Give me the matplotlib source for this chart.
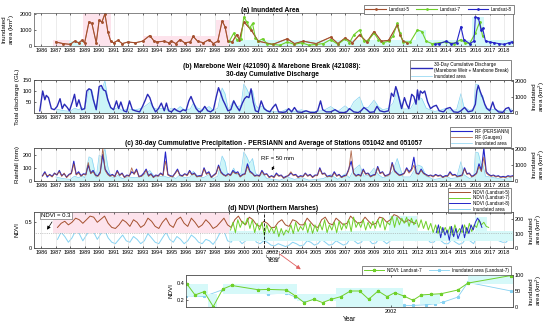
import numpy as np
import matplotlib
matplotlib.use('Agg')
import matplotlib.pyplot as plt
from matplotlib import transforms
from matplotlib.patches import Rectangle

plt.rcParams['font.family'] = ['Liberation Sans', 'DejaVu Sans']
plt.rcParams['mathtext.default'] = 'regular'
plt.rcParams['font.size'] = 4
plt.rcParams['axes.linewidth'] = 0.5
plt.rcParams['axes.edgecolor'] = '#555555'
for a in ('xtick', 'ytick'):
    plt.rcParams[a + '.direction'] = 'in'
    plt.rcParams[a + '.major.size'] = 1.5
    plt.rcParams[a + '.major.width'] = 0.4
    plt.rcParams[a + '.major.pad'] = 1.2
    plt.rcParams[a + '.labelsize'] = 4

# ---------------- DATA ----------------
years = list(range(1986, 2019))
year_labels = [str(y) for y in years]

# (a) Inundated area (km2)
ls5_t = [1987.0, 1987.5, 1988.0, 1988.3, 1988.6, 1988.8, 1989.0, 1989.3, 1989.5, 1989.8, 1990.0, 1990.2,
         1990.4, 1990.6, 1990.8, 1991.0, 1991.3, 1991.6, 1992.0, 1992.5, 1993.0, 1993.5, 1993.8, 1994.0,
         1994.5, 1994.8, 1995.0, 1995.3, 1995.6, 1995.9, 1996.3, 1996.5, 1996.8, 1997.2, 1997.6, 1997.9,
         1998.2, 1998.5, 1998.7, 1998.9, 1999.2, 1999.5, 1999.7, 2000.0, 2000.5, 2001.0, 2002.0, 2003.0,
         2003.5, 2004.1, 2005.0, 2006.0, 2006.5, 2007.0, 2007.5, 2008.0, 2008.5, 2009.0, 2009.5, 2010.0,
         2010.6, 2010.8, 2011.0, 2011.3]
ls5_area = [250, 150, 100, 300, 200, 350, 200, 1500, 1400, 200, 1600, 1500,
            2000, 900, 300, 200, 350, 150, 250, 200, 300, 650, 300, 250,
            300, 200, 300, 150, 400, 200, 250, 600, 300, 200, 400, 150,
            300, 1550, 1200, 300, 250, 700, 400, 1500, 1000, 300, 100, 450,
            150, 300, 150, 550, 150, 500, 200, 700, 250, 900, 300, 350,
            1300, 700, 300, 200]
ls7_t = [1999.0, 1999.3, 1999.5, 1999.8, 2000.0, 2000.2, 2000.4, 2000.6, 2000.8, 2001.0, 2001.3, 2001.6,
         2002.0, 2002.5, 2003.0, 2003.5, 2004.0, 2004.5, 2005.0, 2005.5, 2006.0, 2006.5, 2007.0, 2007.3,
         2007.6, 2008.0, 2008.3, 2008.6, 2009.0, 2009.3, 2009.6, 2010.0, 2010.3, 2010.6, 2010.8, 2011.0,
         2011.5, 2012.0, 2012.3, 2012.6, 2013.0, 2013.5, 2014.0, 2014.5, 2015.0, 2015.3, 2015.6, 2016.0,
         2016.3, 2016.5]
ls7_area = [300, 800, 400, 450, 1800, 1500, 1100, 1400, 500, 300, 450, 150,
            100, 50, 250, 100, 200, 50, 100, 150, 400, 100, 450, 200,
            700, 1000, 300, 350, 800, 400, 200, 300, 600, 1400, 800, 250,
            250, 1000, 900, 300, 150, 200, 250, 150, 400, 200, 150, 800,
            1500, 600]
ls8_t = [2013.2, 2013.5, 2014.0, 2014.3, 2014.7, 2015.0, 2015.2, 2015.6, 2015.9, 2016.0, 2016.2, 2016.4,
         2016.5, 2016.7, 2017.0, 2017.3, 2017.6, 2018.0, 2018.3, 2018.5]
ls8_area = [100, 150, 300, 150, 200, 1200, 400, 150, 300, 1800, 1750, 1000,
            1100, 300, 250, 200, 150, 100, 200, 250]

# (b) 30-day cumulative discharge (GL)
q_t = [1985.9, 1986.1, 1986.25, 1986.35, 1986.5, 1986.7, 1986.9, 1987.1, 1987.3, 1987.45, 1987.6, 1987.8,
       1987.95, 1988.15, 1988.3, 1988.45, 1988.6, 1988.8, 1989.0, 1989.15, 1989.3, 1989.45, 1989.6, 1989.8,
       1990.0, 1990.15, 1990.3, 1990.45, 1990.6, 1990.8, 1991.0, 1991.2, 1991.35, 1991.5, 1991.7, 1991.9,
       1992.1, 1992.3, 1992.5, 1992.8, 1993.0, 1993.2, 1993.35, 1993.5, 1993.7, 1993.9, 1994.1, 1994.3,
       1994.5, 1994.65, 1994.8, 1995.0, 1995.2, 1995.4, 1995.6, 1995.8, 1996.0, 1996.2, 1996.35, 1996.5,
       1996.7, 1996.9, 1997.1, 1997.3, 1997.5, 1997.7, 1997.9, 1998.1, 1998.25, 1998.4, 1998.55, 1998.7,
       1998.9, 1999.1, 1999.3, 1999.5, 1999.7, 1999.9, 2000.05, 2000.2, 2000.35, 2000.5, 2000.65, 2000.8,
       2001.0, 2001.2, 2001.4, 2001.6, 2001.8, 2002.0, 2002.2, 2002.4, 2002.7, 2002.9, 2003.1, 2003.3,
       2003.5, 2003.7, 2004.0, 2004.3, 2004.6, 2004.9, 2005.1, 2005.3, 2005.45, 2005.7, 2006.0, 2006.3,
       2006.6, 2006.9, 2007.1, 2007.3, 2007.6, 2007.9, 2008.1, 2008.3, 2008.5, 2008.7, 2009.0, 2009.2,
       2009.4, 2009.7, 2010.0, 2010.2, 2010.35, 2010.5, 2010.6, 2010.75, 2010.9, 2011.1, 2011.25, 2011.4,
       2011.6, 2011.75, 2011.9, 2012.0, 2012.1, 2012.2, 2012.35, 2012.5, 2012.7, 2012.9, 2013.1, 2013.3,
       2013.5, 2013.8, 2014.0, 2014.25, 2014.5, 2014.8, 2015.0, 2015.25, 2015.5, 2015.8, 2016.0, 2016.1,
       2016.2, 2016.35, 2016.5, 2016.65, 2016.8, 2017.0, 2017.2, 2017.35, 2017.6, 2017.9, 2018.1, 2018.3,
       2018.45, 2018.55]
q_gl = [10, 100, 60, 80, 70, 20, 15, 30, 65, 20, 40, 25,
        10, 50, 85, 30, 60, 15, 20, 100, 110, 105, 60, 15,
        120, 125, 105, 100, 60, 25, 15, 55, 20, 50, 10, 5,
        55, 15, 10, 5, 30, 60, 85, 70, 30, 5, 20, 45,
        10, 45, 10, 5, 20, 10, 5, 15, 10, 55, 75, 50,
        20, 5, 10, 30, 10, 5, 15, 75, 115, 90, 60, 40,
        10, 15, 55, 30, 10, 45, 65, 75, 70, 110, 50, 10,
        5, 55, 20, 10, 5, 25, 40, 5, 3, 5, 20, 5,
        25, 5, 3, 10, 3, 2, 10, 55, 15, 5, 5, 15,
        3, 2, 5, 20, 5, 2, 10, 25, 15, 3, 5, 30,
        10, 5, 10, 90, 75, 120, 100, 60, 20, 70, 40, 20,
        85, 75, 40, 105, 60, 100, 90, 100, 50, 20, 30, 35,
        10, 5, 20, 25, 5, 3, 10, 25, 5, 10, 40, 100,
        125, 95, 70, 40, 20, 10, 50, 20, 5, 3, 20, 25,
        5, 10]

# (c) 30-day cumulative precipitation (mm), six values per year
rf_persiann = [
    [40, 70, 30, 50, 35, 60], [45, 80, 40, 55, 30, 50], [60, 150, 50, 70, 40, 55], [50, 120, 60, 80, 45, 40],
    [70, 200, 90, 60, 40, 50], [35, 80, 45, 60, 30, 45], [40, 70, 55, 90, 35, 40], [60, 90, 40, 55, 30, 45],
    [40, 60, 45, 220, 50, 40], [35, 60, 90, 45, 40, 55], [45, 80, 50, 60, 35, 40], [40, 100, 55, 70, 30, 45],
    [60, 120, 70, 50, 40, 55], [45, 80, 60, 70, 35, 50], [55, 130, 75, 60, 40, 45], [40, 80, 50, 55, 30, 40],
    [30, 60, 40, 45, 25, 35], [40, 60, 45, 50, 30, 40], [35, 60, 40, 50, 30, 45], [45, 100, 55, 60, 35, 40],
    [35, 70, 40, 50, 30, 40], [45, 90, 150, 60, 40, 50], [40, 90, 55, 60, 35, 45], [50, 110, 60, 70, 40, 45],
    [55, 140, 80, 60, 45, 50], [60, 100, 70, 90, 180, 60], [55, 90, 60, 50, 40, 45], [35, 50, 40, 45, 30, 40],
    [40, 70, 45, 50, 35, 40], [45, 100, 55, 60, 35, 45], [60, 130, 80, 250, 70, 50], [40, 45, 35, 40, 30, 35],
    [30, 40, 35, 40, 30, 35]]
rf_gauges = [
    [35, 60, 40, 45, 30, 55], [50, 70, 35, 60, 25, 45], [55, 130, 45, 60, 35, 50], [45, 140, 55, 70, 40, 35],
    [60, 250, 80, 50, 35, 45], [30, 70, 40, 55, 25, 40], [35, 100, 50, 80, 30, 35], [50, 80, 35, 50, 25, 40],
    [35, 55, 40, 150, 45, 35], [30, 55, 80, 40, 35, 50], [40, 70, 45, 55, 30, 35], [35, 90, 50, 60, 25, 40],
    [55, 110, 60, 45, 35, 50], [40, 70, 55, 60, 30, 45], [50, 110, 65, 55, 35, 40], [35, 70, 45, 50, 25, 35],
    [25, 50, 35, 40, 20, 30], [45, 70, 40, 45, 25, 35], [30, 55, 35, 45, 25, 40], [40, 90, 50, 55, 30, 35],
    [30, 60, 35, 45, 25, 35], [40, 80, 230, 55, 35, 45], [35, 80, 50, 55, 30, 40], [45, 100, 55, 65, 35, 40],
    [50, 130, 70, 55, 40, 45], [55, 90, 60, 80, 120, 55], [50, 80, 55, 45, 35, 40], [30, 45, 35, 40, 25, 35],
    [35, 60, 40, 45, 30, 35], [40, 90, 50, 55, 30, 40], [55, 110, 70, 180, 60, 45], [35, 40, 30, 35, 25, 30],
    [25, 35, 30, 35, 25, 30]]

# (d) NDVI, four values per year (Landsat-5, 1987-2011)
ndvi_l5_years = list(range(1987, 2012))
ndvi_l5 = [
    [0.40, 0.48, 0.52, 0.45], [0.50, 0.58, 0.55, 0.48], [0.55, 0.62, 0.60, 0.50], [0.56, 0.62, 0.48, 0.40],
    [0.38, 0.45, 0.55, 0.50], [0.42, 0.55, 0.50, 0.40], [0.45, 0.58, 0.52, 0.42], [0.38, 0.50, 0.58, 0.45],
    [0.40, 0.55, 0.60, 0.48], [0.42, 0.58, 0.50, 0.40], [0.45, 0.55, 0.48, 0.38], [0.42, 0.50, 0.58, 0.45],
    [0.40, 0.55, 0.62, 0.50], [0.45, 0.60, 0.55, 0.45], [0.42, 0.52, 0.48, 0.40], [0.40, 0.50, 0.55, 0.45],
    [0.42, 0.55, 0.52, 0.45], [0.45, 0.58, 0.50, 0.42], [0.40, 0.55, 0.60, 0.48], [0.45, 0.58, 0.52, 0.45],
    [0.48, 0.62, 0.55, 0.48], [0.50, 0.60, 0.52, 0.45], [0.48, 0.60, 0.58, 0.50], [0.55, 0.65, 0.62, 0.55],
    [0.50, 0.55, 0.50, 0.48]]
# Landsat-7, six values per year (1999-2016)
ndvi_l7_years = list(range(1999, 2017))
ndvi_l7 = [
    [0.35, 0.50, 0.30, 0.55, 0.40, 0.52], [0.45, 0.58, 0.38, 0.55, 0.30, 0.48], [0.35, 0.50, 0.25, 0.45, 0.30, 0.40],
    [0.28, 0.42, 0.22, 0.38, 0.25, 0.35], [0.30, 0.45, 0.28, 0.50, 0.32, 0.42], [0.35, 0.50, 0.30, 0.48, 0.28, 0.45],
    [0.32, 0.48, 0.35, 0.55, 0.30, 0.45], [0.35, 0.50, 0.30, 0.52, 0.35, 0.48], [0.38, 0.55, 0.32, 0.60, 0.40, 0.50],
    [0.40, 0.55, 0.35, 0.50, 0.38, 0.52], [0.38, 0.55, 0.40, 0.58, 0.35, 0.50], [0.45, 0.62, 0.40, 0.60, 0.45, 0.58],
    [0.48, 0.60, 0.42, 0.58, 0.45, 0.55], [0.40, 0.55, 0.38, 0.52, 0.35, 0.48], [0.30, 0.45, 0.28, 0.42, 0.30, 0.40],
    [0.28, 0.42, 0.25, 0.45, 0.30, 0.38], [0.30, 0.45, 0.28, 0.48, 0.32, 0.45], [0.40, 0.55, 0.45, 0.50, 0.42, 0.40]]
ndvi_l8_t = [2013.3, 2013.45, 2013.6, 2013.75, 2013.9, 2014.05, 2014.2, 2014.35, 2014.5, 2014.65, 2014.8,
             2014.95, 2015.1, 2015.25, 2015.4, 2015.55, 2015.7, 2015.85, 2016.0, 2016.15, 2016.3, 2016.45]
ndvi_l8 = [0.30, 0.45, 0.20, 0.40, 0.25, 0.35, 0.15, 0.42, 0.22, 0.38, 0.18,
           0.30, 0.45, 0.20, 0.40, 0.28, 0.45, 0.35, 0.50, 0.58, 0.52, 0.40]
# Northern Marshes inundated area (km2), four values per year 1987-2018
nm_years = list(range(1987, 2019))
nm_area = [
    [60, 110, 80, 40], [70, 120, 100, 50], [90, 130, 110, 60], [100, 125, 70, 40], [30, 60, 90, 50],
    [40, 80, 60, 30], [50, 100, 70, 40], [30, 70, 110, 60], [40, 80, 60, 30], [50, 90, 70, 40],
    [30, 60, 50, 25], [60, 110, 120, 50], [40, 80, 60, 30], [50, 100, 80, 40], [30, 50, 40, 20],
    [15, 30, 20, 10], [20, 40, 30, 15], [20, 50, 40, 20], [30, 60, 40, 20], [25, 50, 35, 20],
    [30, 70, 50, 30], [40, 80, 60, 30], [35, 70, 50, 30], [50, 100, 90, 60], [70, 90, 80, 50],
    [60, 90, 70, 40], [40, 70, 50, 30], [30, 60, 40, 25], [35, 70, 50, 30], [80, 160, 130, 90],
    [60, 80, 50, 40], [40, 70, 50, 90]]

# Inset: Landsat-7 NDVI and inundated area 2001-2002
in_ndvi_t = [2001.006, 2001.044, 2001.088, 2001.133, 2001.179, 2001.222, 2001.352, 2001.401, 2001.490,
             2001.534, 2001.576, 2001.623, 2001.666, 2001.709, 2001.755, 2001.802, 2001.847, 2001.891,
             2001.937, 2001.981, 2002.018, 2002.062, 2002.107, 2002.148, 2002.196, 2002.245, 2002.326,
             2002.375, 2002.586]
in_ndvi = [0.388, 0.263, 0.302, 0.125, 0.333, 0.376, 0.325, 0.329, 0.322, 0.251, 0.173, 0.212, 0.173,
           0.212, 0.243, 0.310, 0.310, 0.212, 0.310, 0.243, 0.290, 0.251, 0.200, 0.263, 0.271, 0.278,
           0.322, 0.404, 0.494]
in_area_t = [2001.0, 2001.088, 2001.179, 2001.401, 2001.49, 2001.534, 2001.576, 2001.666, 2001.755,
             2001.802, 2001.891, 2001.937, 2001.981, 2002.018, 2002.062, 2002.107, 2002.172, 2002.213,
             2002.253, 2002.326, 2002.375, 2002.586]
in_area = [35, 33, 54, 41, 43, 31, 21, 28, 38, 26, 12, 7, 5, 5, 5, 5, 7, 10, 15, 31, 77, 50]

# background highlight bands: (start, end, low, high)
a_pink = [(1986.8, 1988.0, 0, 400), (1988.9, 1990.8, 0, 2050), (1993.0, 1998.1, 0, 600), (1998.1, 1999.0, 0, 1600)]
a_cyan = [(1987.9, 1988.9, 0, 300), (1999.0, 2018.6, 0, 350), (2011.9, 2012.6, 0, 1000), (2015.8, 2016.6, 0, 1800)]
d_pink = [(1986.8, 1999.0, 0.3, 0.7)]
d_cyan = [(1999.0, 2018.6, 0.13, 0.34), (2010.0, 2012.0, 0.34, 0.62), (2016.0, 2016.8, 0.34, 0.6)]
in_cyan = [(2001.0, 2001.109, 0.251, 0.388), (2001.109, 2001.149, 0.125, 0.271), (2001.182, 2001.539, 0.271, 0.388),
           (2001.539, 2001.734, 0.192, 0.271), (2001.734, 2002.058, 0.125, 0.349), (2002.14, 2002.237, 0.153, 0.271),
           (2002.375, 2002.594, 0.388, 0.5)]

# ---------------- STYLE ----------------
C5 = '#a4502e'
C7 = '#6fd02a'
C8 = '#2424c8'
CQ = '#2a2ab8'
CIN = '#86d2f2'
CINF = '#ccf5f8'
PINK = '#fde3ec'
CYAN = '#d6f9f9'
GRID = '#dddddd'
XLIM = (1985.5, 2018.6)

W, H = 550, 328
fig = plt.figure(figsize=(W / 100, H / 100), dpi=100)


def rect(l, t, r, b):
    return [l / W, 1 - b / H, (r - l) / W, (b - t) / H]


def year_axis(ax):
    ax.set_xlim(*XLIM)
    ax.set_xticks(years)
    ax.set_xticklabels(year_labels)
    ax.tick_params(axis='x', top=True, length=1.2)
    for y in years:
        ax.axvline(y, color=GRID, lw=0.4, zorder=0)


def bands(ax, lst, color):
    for (s, e, lo, hi) in lst:
        ax.fill_between([s, e], [lo, lo], [hi, hi], color=color, lw=0, zorder=0)


def legend(ax, handles, labels, right, top, ncol=1, spacing=0.25, **kw):
    lg = ax.legend(handles, labels, loc='upper right', bbox_to_anchor=(right / W, 1 - top / H),
                   bbox_transform=fig.transFigure, ncol=ncol, fontsize=3.3, frameon=True, fancybox=False,
                   framealpha=1, edgecolor='#555555', borderpad=0.35, handlelength=4.5, handletextpad=0.6,
                   labelspacing=spacing, columnspacing=1.5, **kw)
    lg.get_frame().set_linewidth(0.5)
    lg.set_zorder(20)
    return lg


# combined inundated area series for panels b and c
t5, a5 = np.array(ls5_t), np.array(ls5_area)
t7, a7 = np.array(ls7_t), np.array(ls7_area)
t8, a8 = np.array(ls8_t), np.array(ls8_area)
inund_t = np.concatenate([t5[t5 < 1999], t7[t7 < 2013.2], t8])
inund_a = np.concatenate([a5[t5 < 1999], a7[t7 < 2013.2], a8])

# ---------------- (a) ----------------
ax_a = fig.add_axes(rect(34, 13, 513, 46))
year_axis(ax_a)
bands(ax_a, a_pink, PINK)
bands(ax_a, a_cyan, CYAN)
h5, = ax_a.plot(ls5_t, ls5_area, color=C5, lw=0.8, marker='.', ms=2)
h7, = ax_a.plot(ls7_t, ls7_area, color=C7, lw=0.8, marker='.', ms=2)
h8, = ax_a.plot(ls8_t, ls8_area, color=C8, lw=0.8, marker='.', ms=2)
ax_a.plot(ls5_t, ls5_area, color=C5, lw=0.6, marker='.', ms=1.5, alpha=0.7)
ax_a.set_ylim(0, 2050)
ax_a.set_yticks([0, 1000, 2000])
ax_a.set_ylabel('Inundated\narea (km$^2$)', fontsize=4.5, labelpad=2, linespacing=1.1)
legend(ax_a, [h5, h7, h8], ['Landsat-5', 'Landsat-7', 'Landsat-8'], 516, 3, ncol=3)
fig.text(270 / W, 1 - 10 / H, '(a) Inundated Area', ha='center', va='center', fontsize=4.8, fontweight='bold')

# ---------------- (b) ----------------
ax_b = fig.add_axes(rect(34, 80, 513, 113))
year_axis(ax_b)
ax_b2 = ax_b.twinx()
ax_b2.fill_between(inund_t, 0, inund_a, color=CINF, lw=0, zorder=0)
hbi, = ax_b2.plot(inund_t, inund_a, color=CIN, lw=0.5)
ax_b2.set_ylim(0, 2050)
ax_b2.set_yticks([0, 1000, 2000])
ax_b2.set_ylabel('Inundated\narea (km$^2$)', fontsize=4.5, labelpad=3, linespacing=1.1)
ax_b.set_zorder(ax_b2.get_zorder() + 1)
ax_b.patch.set_visible(False)
hq, = ax_b.plot(q_t, q_gl, color=CQ, lw=1.0)
ax_b.set_ylim(0, 150)
ax_b.set_yticks([50, 100, 150])
ax_b.set_ylabel('Total discharge (GL)', fontsize=4.5, labelpad=2)
legend(ax_b2, [hq, hbi], ['30-Day Cumulative Discharge\n(Marebone Weir + Marebone Break)', 'Inundated area'],
       513, 58, spacing=0.2)
fig.text(272 / W, 1 - 71 / H, '(b) Marebone Weir (421090) & Marebone Break (421088):\n30-day Cumulative Discharge',
         ha='center', va='center', fontsize=4.8, fontweight='bold', linespacing=1.2)

# ---------------- (c) ----------------
ax_c = fig.add_axes(rect(34, 148, 513, 181))
year_axis(ax_c)
ax_c2 = ax_c.twinx()
ax_c2.fill_between(inund_t, 0, inund_a, color=CINF, lw=0, zorder=0)
hci, = ax_c2.plot(inund_t, inund_a, color=CIN, lw=0.5)
ax_c2.set_ylim(0, 2050)
ax_c2.set_yticks([0, 1000, 2000])
ax_c2.set_ylabel('Inundated\narea (km$^2$)', fontsize=4.5, labelpad=3, linespacing=1.1)
ax_c.set_zorder(ax_c2.get_zorder() + 1)
ax_c.patch.set_visible(False)
rf_t = np.array([[y + (k + 0.5) / 6 for k in range(6)] for y in years]).ravel()
rf_mask = rf_t <= XLIM[1]
hrp, = ax_c.plot(rf_t[rf_mask], np.array(rf_persiann).ravel()[rf_mask], color=C8, lw=0.8)
hrg, = ax_c.plot(rf_t[rf_mask], np.array(rf_gauges).ravel()[rf_mask], color=C5, lw=0.6, alpha=0.85)
ax_c.set_ylim(0, 250)
ax_c.set_yticks([0, 100, 200])
ax_c.set_ylabel('Rainfall (mm)', fontsize=4.5, labelpad=2)
ax_c.annotate('RF = 50 mm', xy=(2001.85, 62), xytext=(2001.2, 160), fontsize=4.3,
              arrowprops=dict(arrowstyle='-|>', color='k', lw=0.5, mutation_scale=4))
legend(ax_c2, [hrp, hrg, hci], ['RF (PERSIANN)', 'RF (Gauges)', 'Inundated area'], 513, 125, spacing=0.2)
fig.text(274 / W, 1 - 144 / H,
         '(c) 30-day Cummulative Precipitation - PERSIANN and Average of Stations 051042 and 051057',
         ha='center', va='center', fontsize=4.8, fontweight='bold')

# ---------------- (d) ----------------
ax_d = fig.add_axes(rect(34, 212, 513, 248))
year_axis(ax_d)
bands(ax_d, d_pink, PINK)
bands(ax_d, d_cyan, CYAN)
ax_d2 = ax_d.twinx()
nm_t = np.array([[y + 0.125 + 0.25 * k for k in range(4)] for y in nm_years]).ravel()
nm_mask = nm_t <= XLIM[1]
hdi, = ax_d2.plot(nm_t[nm_mask], np.array(nm_area).ravel()[nm_mask], color=CIN, lw=0.7)
ax_d2.set_ylim(0, 250)
ax_d2.set_yticks([0, 100, 200])
ax_d2.set_ylabel('Inundated\narea (km$^2$)', fontsize=4.5, labelpad=3, linespacing=1.1)
ax_d.set_zorder(ax_d2.get_zorder() + 1)
ax_d.patch.set_visible(False)
l5t = np.array([[y + 0.125 + 0.25 * k for k in range(4)] for y in ndvi_l5_years]).ravel()
hd5, = ax_d.plot(l5t, np.array(ndvi_l5).ravel(), color=C5, lw=0.7)
l7t = np.array([[y + (k + 0.5) / 6 for k in range(6)] for y in ndvi_l7_years]).ravel()
hd7, = ax_d.plot(l7t, np.array(ndvi_l7).ravel(), color=C7, lw=0.7)
hd8, = ax_d.plot(ndvi_l8_t, ndvi_l8, color=C8, lw=0.7)
ax_d.axhline(0.3, color='#999999', lw=0.5, ls=':')
ax_d.axvline(2001.4, color='k', lw=0.6, ls='--')
ax_d.set_ylim(0, 0.7)
ax_d.set_yticks([0, 0.5])
ax_d.set_yticklabels(['0', '0.5'])
ax_d.set_ylabel('NDVI', fontsize=4.5, labelpad=4)
ax_d.set_xlabel('Year', fontsize=4.8, labelpad=2)
ax_d.annotate('NDVI = 0.3', xy=(1986.3, 0.31), xytext=(1986.0, 0.6), fontsize=4.3,
              bbox=dict(boxstyle='square,pad=0.2', fc='white', ec='#555555', lw=0.4),
              arrowprops=dict(arrowstyle='-|>', color='k', lw=0.5, mutation_scale=5))
bt = transforms.blended_transform_factory(ax_d.transData, ax_d.transAxes)
ax_d.add_patch(Rectangle((2001.5, -0.26), 0.95, 0.19, transform=bt, fill=False, ls='--', lw=0.4,
                         ec='#444444', clip_on=False))
legend(ax_d2, [hd5, hd7, hd8, hdi], ['NDVI (Landsat-5)', 'NDVI (Landsat-7)', 'NDVI (Landsat-8)', 'Inundated area'],
       513, 186, spacing=0.12)
fig.text(273 / W, 1 - 208 / H, '(d) NDVI (Northern Marshes)', ha='center', va='center', fontsize=4.8,
         fontweight='bold')

fig.add_artist(matplotlib.patches.FancyArrowPatch((277 / W, 1 - 252 / H), (303 / W, 1 - 271 / H),
                                                  transform=fig.transFigure, arrowstyle='-|>',
                                                  mutation_scale=6, color='#e06060', lw=0.6))

# ---------------- inset ----------------
ax_i = fig.add_axes(rect(186, 275, 513, 307))
bands(ax_i, in_cyan, CYAN)
ax_i.set_xlim(2001.0, 2002.595)
ax_i.set_xticks([2002])
ax_i.set_xticklabels(['2002'])
ax_i.tick_params(axis='x', top=True)
ax_i2 = ax_i.twinx()
hia, = ax_i2.plot(in_area_t, in_area, color=CIN, lw=0.6, marker='*', ms=2)
ax_i2.set_ylim(0, 100)
ax_i2.set_yticks([0, 50, 100])
ax_i2.set_ylabel('Inundated\narea (km$^2$)', fontsize=4.5, labelpad=3, linespacing=1.1)
ax_i.set_zorder(ax_i2.get_zorder() + 1)
ax_i.patch.set_visible(False)
hin, = ax_i.plot(in_ndvi_t, in_ndvi, color=C7, lw=0.7, marker='*', ms=2.2)
ax_i.set_ylim(0.12, 0.5)
ax_i.set_yticks([0.2, 0.4])
ax_i.set_ylabel('NDVI', fontsize=4.5, labelpad=2)
ax_i.set_xlabel('Year', fontsize=4.8, labelpad=2)
legend(ax_i2, [hin, hia], ['NDVI: Landsat-7', 'Inundated area (Landsat-7)'], 513, 264, ncol=2)

fig.savefig('out.png', dpi=100)
